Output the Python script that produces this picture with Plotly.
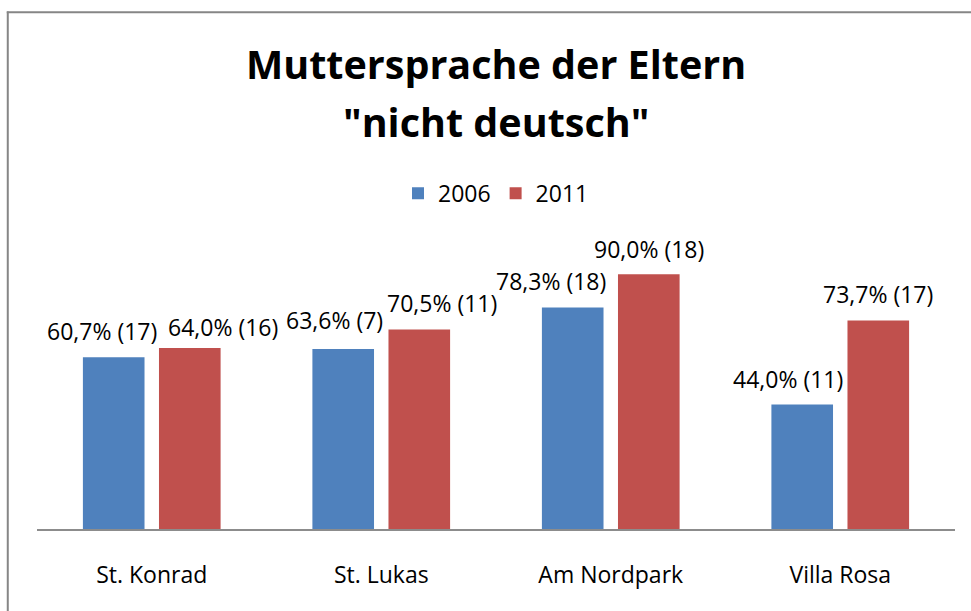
import plotly.graph_objects as go

categories = ["St. Konrad", "St. Lukas", "Am Nordpark", "Villa Rosa"]
series_names = ["2006", "2011"]
pct_2006 = [60.7, 63.6, 78.3, 44.0]
n_2006 = [17, 7, 18, 11]
pct_2011 = [64.0, 70.5, 90.0, 73.7]
n_2011 = [16, 11, 18, 17]
title_lines = ["Muttersprache der Eltern", "\"nicht deutsch\""]

colors = ["#4F81BD", "#C0504D"]
FONT = "Open Sans, Noto Sans, sans-serif"

# label nudges (px) relative to each bar's centre / top, as placed in the original
dx_2006 = [-12, -9, -22, -14]
dy_2006 = [26, 29, 26, 25]
dx_2011 = [33, 23, 0, 0]
dy_2011 = [21, 26, 25, 26]

W, H = 971, 611
PLOT_L, PLOT_R, PLOT_T, PLOT_B = 37.4, 954.6, 245.7, 529
ML, MR, MT, MB = PLOT_L, W - PLOT_R, PLOT_T, H - PLOT_B
BARGAP, GROUPGAP = 0.337, 0.19

plot_w = PLOT_R - PLOT_L
plot_h = PLOT_B - PLOT_T


def py(y_px):
    return (PLOT_B - y_px) / plot_h


def px(x_px):
    return (x_px - PLOT_L) / plot_w


def fmt(p, n):
    return f"{p:.1f}".replace(".", ",") + f"% ({n})"


fig = go.Figure()
for name, vals, col in zip(series_names, [pct_2006, pct_2011], colors):
    fig.add_trace(go.Bar(x=categories, y=vals, name=name, marker_color=col,
                         marker_line_width=0))

cat_w = plot_w / len(categories)
slot = (1 - BARGAP) * cat_w / 2

annotations = []
for sign, vals, ns, dxs, dys in [(-1, pct_2006, n_2006, dx_2006, dy_2006),
                                 (1, pct_2011, n_2011, dx_2011, dy_2011)]:
    for c, v, n, dx, dy in zip(categories, vals, ns, dxs, dys):
        annotations.append(dict(x=c, y=v, xref="x", yref="y", text=fmt(v, n),
                                showarrow=False, xanchor="center", yanchor="middle",
                                xshift=sign * slot / 2 + dx, yshift=dy,
                                font=dict(family=FONT, size=23, color="#000000")))

for line, yc in zip(title_lines, [64, 122]):
    annotations.append(dict(x=0.5, y=py(yc), xref="paper", yref="paper", text=line,
                            showarrow=False, xanchor="center", yanchor="middle",
                            font=dict(family=FONT, size=39.5, color="#000000",
                                      weight="bold")))

border = dict(color="#868686", width=2)
fig.update_layout(
    width=W, height=H,
    margin=dict(l=ML, r=MR, t=MT, b=MB),
    paper_bgcolor="white", plot_bgcolor="white",
    barmode="group", bargap=BARGAP, bargroupgap=GROUPGAP,
    legend=dict(orientation="h", x=0.5, xanchor="center", y=py(193),
                yanchor="middle", font=dict(family=FONT, size=23, color="#000000"),
                itemwidth=30, traceorder="normal"),
    xaxis=dict(showline=True, linecolor="#8C8C8C", linewidth=1.5, ticks="outside",
               ticklen=25, tickcolor="rgba(0,0,0,0)", showgrid=False,
               tickfont=dict(family=FONT, size=23, color="#000000")),
    yaxis=dict(range=[0, 100], visible=False, showgrid=False),
    annotations=annotations,
    shapes=[
        dict(type="line", xref="paper", yref="paper", x0=px(8.2), x1=px(8.2),
             y0=py(H + 20), y1=py(11), line=border, layer="above"),
        dict(type="line", xref="paper", yref="paper", x0=px(7.2), x1=px(W + 20),
             y0=py(11.8), y1=py(11.8), line=border, layer="above"),
    ],
)

fig.write_html("out.html",
               config={"displayModeBar": False},
               post_script="document.body.style.margin='0';"
                           "document.body.style.overflow='hidden';")
